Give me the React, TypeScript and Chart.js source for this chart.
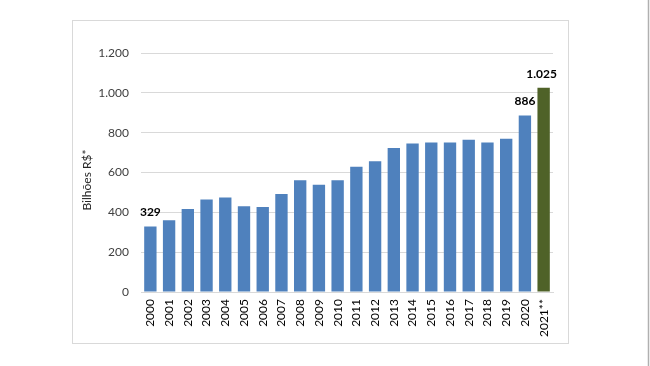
import React, { useEffect, useRef } from "react";
import { Chart, registerables } from "chart.js";

Chart.register(...registerables);

const categories = ["2000","2001","2002","2003","2004","2005","2006","2007","2008","2009","2010","2011","2012","2013","2014","2015","2016","2017","2018","2019","2020","2021**"];
const values = [329,360,417,464,474,430,427,492,561,539,561,629,657,723,745,751,751,765,751,770,886,1025];
const labeledIndexes = [0, 20, 21];
const yTicks = [0, 200, 400, 600, 800, 1000, 1200];
const yTitle = "Bilhões R$*";

const BLUE = "#4F81BD";
const GREEN = "#4F6228";
const FONT = "Lato, 'Open Sans', sans-serif";

const fmt = (v: number) => v.toLocaleString("pt-BR");

export default function App() {
  const ref = useRef<HTMLCanvasElement | null>(null);

  useEffect(() => {
    const canvas = ref.current!;
    const decorPlugin = {
      id: "decor",
      beforeDraw(chart: any) {
        const ctx = chart.ctx;
        ctx.save();
        ctx.fillStyle = "#ffffff";
        ctx.fillRect(0, 0, chart.width, chart.height);
        ctx.strokeStyle = "#d9d9d9";
        ctx.lineWidth = 1;
        ctx.strokeRect(72.5, 20.5, 496, 323);
        ctx.strokeStyle = "#b0b0b0";
        ctx.lineWidth = 1.5;
        ctx.beginPath();
        ctx.moveTo(648.5, 0);
        ctx.lineTo(648.5, chart.height);
        ctx.stroke();
        ctx.restore();
      },
      afterDraw(chart: any) {
        const ctx = chart.ctx;
        ctx.save();
        // axis title
        ctx.translate(87, 180);
        ctx.rotate(-Math.PI / 2);
        ctx.fillStyle = "#262626";
        ctx.font = `12px ${FONT}`;
        ctx.textAlign = "center";
        ctx.textBaseline = "middle";
        ctx.fillText(yTitle, 0, 0);
        ctx.restore();
        // data labels
        const meta = chart.getDatasetMeta(0);
        ctx.save();
        ctx.font = `bold 12px ${FONT}`;
        ctx.fillStyle = "#000000";
        ctx.textAlign = "center";
        ctx.textBaseline = "bottom";
        labeledIndexes.forEach((i) => {
          const bar = meta.data[i];
          let x = bar.x;
          if (i === 21) x = bar.x - 2;
          ctx.fillText(fmt(values[i]), x, bar.y - 8);
        });
        ctx.restore();
      },
    };

    const chart = new Chart(canvas, {
      type: "bar",
      data: {
        labels: categories,
        datasets: [
          {
            data: values,
            backgroundColor: values.map((_, i) => (i === values.length - 1 ? GREEN : BLUE)),
            borderWidth: 0,
            categoryPercentage: 0.66,
            barPercentage: 1,
          },
        ],
      },
      options: {
        responsive: false,
        animation: false,
        devicePixelRatio: 1,
        layout: { padding: { left: 0, top: 53, right: 97, bottom: 0 } },
        plugins: { legend: { display: false }, tooltip: { enabled: false } },
        scales: {
          x: {
            grid: { display: false, drawTicks: false },
            border: { display: true, color: "#d9d9d9", width: 1 },
            ticks: {
              minRotation: 90,
              maxRotation: 90,
              autoSkip: false,
              padding: 7,
              color: "#000000",
              font: { family: FONT, size: 12 },
            },
            afterFit: (s: any) => {
              s.height = 366 - 292;
            },
          },
          y: {
            min: 0,
            max: 1200,
            afterBuildTicks: (s: any) => {
              s.ticks = yTicks.map((v) => ({ value: v }));
            },
            grid: { color: "#d9d9d9", drawTicks: false, lineWidth: 1 },
            border: { display: false },
            ticks: {
              padding: 12,
              color: "#404040",
              font: { family: FONT, size: 12 },
              callback: (v: any) => fmt(Number(v)),
            },
            afterFit: (s: any) => {
              s.width = 141;
            },
          },
        },
      },
      plugins: [decorPlugin],
    });
    return () => chart.destroy();
  }, []);

  return (
    <div style={{ position: "fixed", left: 0, top: 0, width: 650, height: 366, background: "#fff" }}>
      <canvas ref={ref} width={650} height={366} style={{ display: "block" }} />
    </div>
  );
}
